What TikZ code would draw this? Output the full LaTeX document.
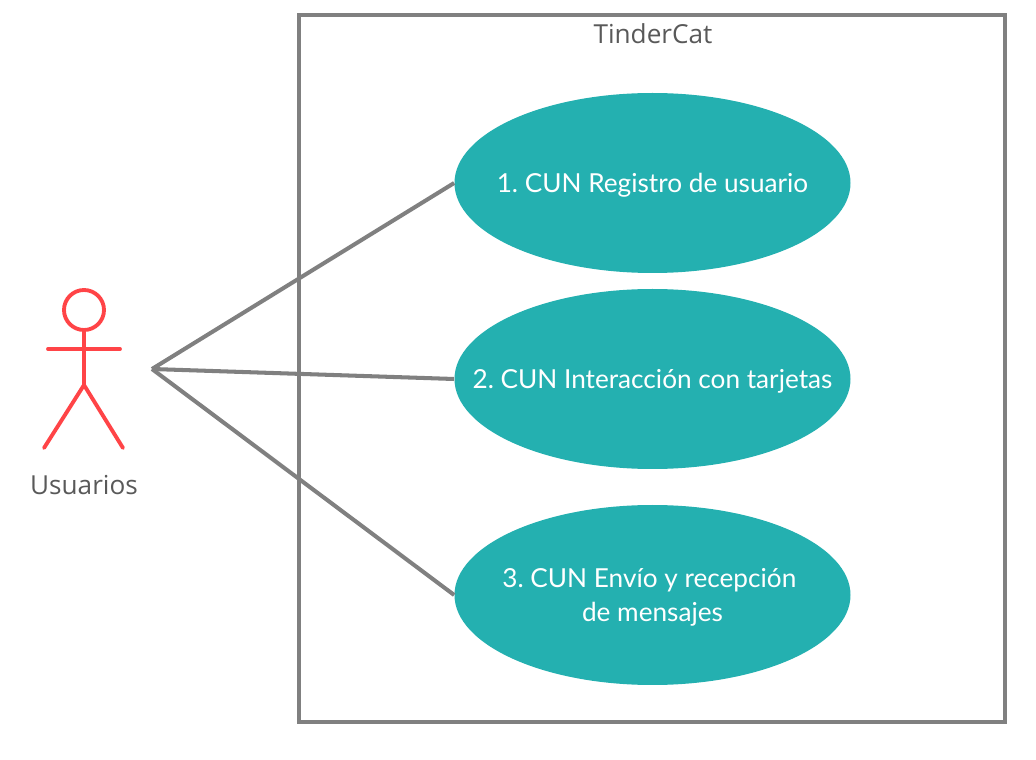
\documentclass[tikz,border=0pt]{standalone}
\usepackage{fontspec}
\setmainfont{Lato}
\newfontfamily\opensans{Open Sans}
\usetikzlibrary{shapes.geometric}
\definecolor{tealcun}{HTML}{24B0B0}
\definecolor{rojoactor}{HTML}{FF4447}
\definecolor{grislinea}{HTML}{808080}
\definecolor{gristexto}{HTML}{595959}
\frenchspacing
\tikzset{
  caso/.style={ellipse,fill=tealcun,text=white,minimum width=396*0.02cm,minimum height=180*0.02cm,
    inner xsep=-40pt,inner ysep=0pt,text depth=0pt,align=center,font=\fontsize{14.9}{19.3}\selectfont},
  linea/.style={draw=grislinea,line width=2.3pt},
  actor/.style={draw=rojoactor,line width=2.2pt,line cap=round},
  rotulo/.style={text=gristexto,font=\opensans\fontsize{14.9}{18}\selectfont}
}
\begin{document}
\begin{tikzpicture}[x=0.02cm,y=-0.02cm]
  \useasboundingbox (0,0) rectangle (1036,760);

  % Sistema
  \draw[linea] (299,15) rectangle (1005,722);
  \node[rotulo] (sistema) at (653,34) {TinderCat};

  % Casos de uso
  \node[caso] (cun1) at (652.5,183) {1. CUN Registro de usuario};
  \node[caso] (cun2) at (652.5,379) {2. CUN Interacción con tarjetas};
  \node[caso] (cun3) at (652.5,595) {3. CUN Envío y recepción\hspace*{3.6pt}\\de mensajes};

  % Actor
  \draw[actor] (84,310) circle (20);
  \draw[actor] (84,330) -- (84,385);
  \draw[actor] (48,349) -- (120,349);
  \draw[actor] (44,448) -- (84,385) -- (123,448);
  \node[rotulo] (usuarios) at (84,485) {Usuarios};

  % Conexiones
  \coordinate (vertice) at (152,369);
  \draw[linea] (vertice) -- (cun1.west);
  \draw[linea] (vertice) -- (cun2.west);
  \draw[linea] (vertice) -- (cun3.west);
\end{tikzpicture}
\end{document}
